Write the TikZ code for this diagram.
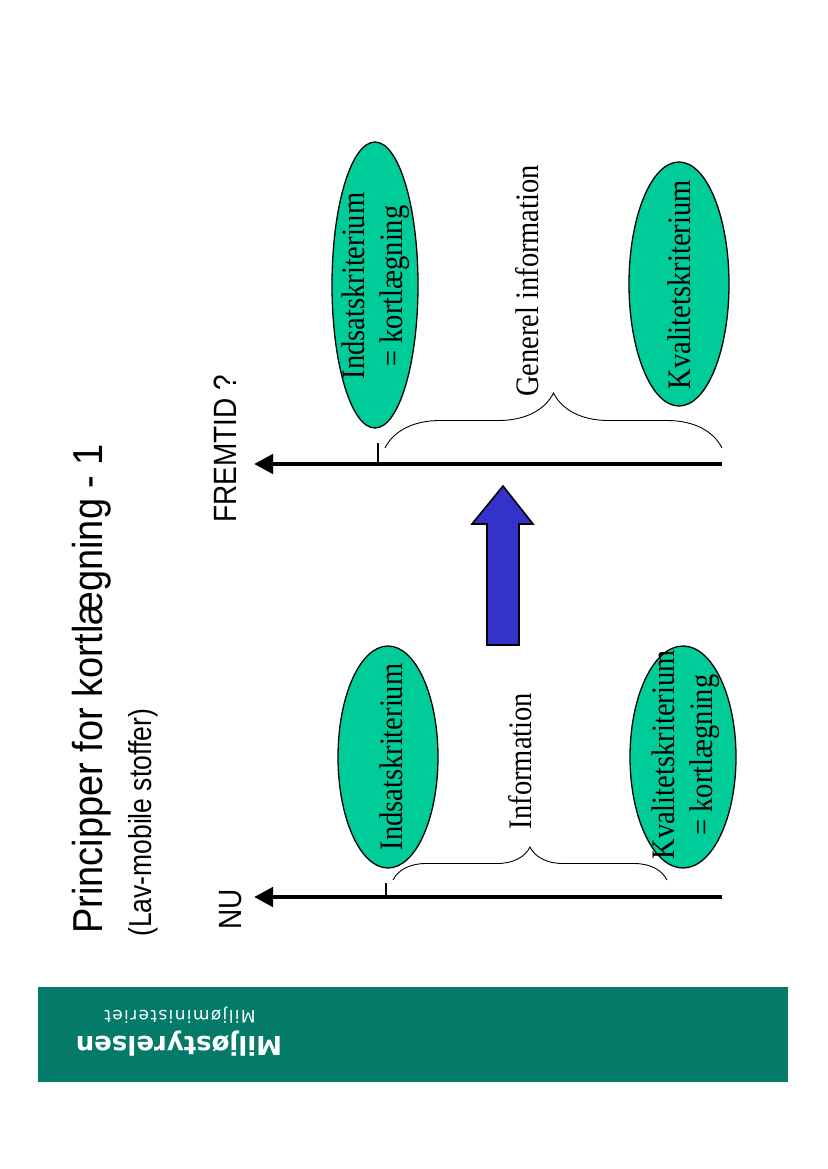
\documentclass[tikz,border=0pt]{standalone}
\usepackage{fontspec}
\setmainfont{Liberation Serif}
\newfontfamily\arialf{Liberation Sans}
\newfontfamily\dvfont{DejaVu Sans}
\newfontfamily\dvmin[LetterSpace=8]{DejaVu Sans}
\usetikzlibrary{shapes.geometric,arrows.meta,decorations.pathreplacing}
\newcommand{\vs}[1]{\scalebox{1}[1.15]{#1}}
\definecolor{footgreen}{RGB}{4,122,104}
\definecolor{ellgreen}{RGB}{0,204,153}
\definecolor{arrblue}{RGB}{51,51,204}
\tikzset{
  ell/.style={ellipse, draw=black, line width=1.3pt, fill=ellgreen, inner sep=0pt, rotate=90},
  serif/.style={rotate=90, inner sep=0pt, font=\fontsize{28.5}{33}\selectfont},
  sanslbl/.style={rotate=90, inner sep=0pt, anchor=base west},
  timeline/.style={line width=4.5pt, -{Triangle[length=19pt,width=19pt]}},
  tick/.style={line width=1.1pt},
  bracepath/.style={decorate, line width=0.9pt},
  bigarrow/.style={fill=arrblue, draw=black, line width=1.6pt, line join=miter}
}
\begin{document}
\begin{tikzpicture}[x=1pt,y=-1pt]
\useasboundingbox (0,0) rectangle (827,1169);

% footer
\fill[footgreen] (38,987) rectangle (788,1082);
\node[rotate=180, anchor=base, inner sep=0pt, text=white, font=\dvfont\bfseries\fontsize{26}{30}\selectfont] (ms) at (179,1036) {Miljøstyrelsen};
\node[rotate=180, anchor=base, inner sep=0pt, text=white, font=\dvmin\fontsize{17}{20}\selectfont] (mm) at (180,1010) {Miljøministeriet};

% titles
\node[sanslbl, font=\arialf\fontsize{38}{44}\selectfont] (title) at (102,934) {\scalebox{1}[1.1]{Principper for kortlægning - 1}};
\node[sanslbl, font=\arialf\fontsize{26.5}{30}\selectfont] (sub) at (151,937) {\scalebox{1}[1.2]{(Lav-mobile stoffer)}};
\node[sanslbl, font=\arialf\fontsize{28}{32}\selectfont] (nu) at (241,930) {\vs{NU}};
\node[sanslbl, font=\arialf\fontsize{28}{32}\selectfont] (fremtid) at (236,523) {\vs{FREMTID ?}};

% timelines
\coordinate (nuend) at (722,897);
\coordinate (nutip) at (254,897);
\coordinate (frend) at (722,464);
\coordinate (frtip) at (254,464);
\draw[timeline] (nuend) -- (nutip);
\draw[timeline] (frend) -- (frtip);

% ticks
\coordinate (t1a) at (386,883); \coordinate (t1b) at (386,896);
\coordinate (t2a) at (378,443); \coordinate (t2b) at (378,462);
\draw[tick] (t1a) -- (t1b);
\draw[tick] (t2a) -- (t2b);

% braces
\coordinate (b1l) at (393,880); \coordinate (b1r) at (667,880);
\coordinate (b2l) at (385,448); \coordinate (b2r) at (722,448);
\draw[bracepath, decoration={brace, amplitude=33pt}] (b1l) -- (b1r);
\draw[bracepath, decoration={brace, amplitude=55pt}] (b2l) -- (b2r);

% NU ellipses
\node[ell, minimum width=222pt, minimum height=100pt] (e1) at (388,757) {};
\node[ell, minimum width=222pt, minimum height=106pt] (e2) at (683,757) {};
\node[serif, anchor=base] (e1t) at (402,757) {\vs{Indsatskriterium}};
\node[serif, anchor=center] (e2t) at (686,755) {\vs{\begin{tabular}{@{}c@{}}Kvalitetskriterium\\= kortlægning\end{tabular}}};
\node[serif, anchor=base] (info) at (531,761) {\vs{Information}};

% FREMTID ellipses
\node[ell, minimum width=286pt, minimum height=86pt] (e3) at (375,285) {};
\node[ell, minimum width=244pt, minimum height=100pt] (e4) at (679,284) {};
\node[serif, anchor=center] (e3t) at (376,286) {\vs{\begin{tabular}{@{}c@{}}Indsatskriterium\\= kortlægning\end{tabular}}};
\node[serif, anchor=base] (e4t) at (690,285) {\vs{Kvalitetskriterium}};
\node[serif, anchor=base] (ginfo) at (538,281) {\vs{Generel information}};

% big blue arrow
\draw[bigarrow] (503,486) -- (533,524) -- (519,524) -- (519,645) -- (487,645) -- (487,524) -- (472,524) -- cycle;
\end{tikzpicture}
\end{document}
